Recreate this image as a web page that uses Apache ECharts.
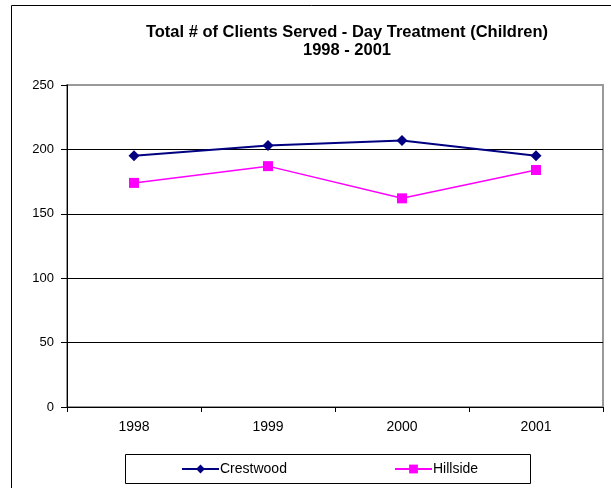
<!DOCTYPE html>
<html>
<head>
<meta charset="utf-8">
<script src="https://cdn.jsdelivr.net/npm/echarts@6/dist/echarts.min.js"></script>
<style>
html,body{margin:0;padding:0;background:#fff;}
#c{width:611px;height:488px;}
</style>
</head>
<body>
<div id="c"></div>
<script>
const categories = ['1998', '1999', '2000', '2001'];
const crestwood = [195, 203, 207, 195];
const hillside = [174, 187, 162, 184];
const yTicks = [0, 50, 100, 150, 200, 250];

const FONT = 'Liberation Sans, Arial, sans-serif';
const chart = echarts.init(document.getElementById('c'), null, {renderer: 'canvas'});
chart.setOption({
  animation: false,
  backgroundColor: '#fff',
  title: {
    text: 'Total # of Clients Served - Day Treatment (Children)\n1998 - 2001',
    left: 342, top: 18, textAlign: 'center',
    textStyle: {fontFamily: FONT, fontSize: 16.5, fontWeight: 'bold', color: '#000', lineHeight: 18}
  },
  graphic: [
    {type: 'rect', shape: {x: 11.5, y: 5.5, width: 640, height: 520}, style: {fill: 'none', stroke: '#000', lineWidth: 1}, z: 0},
    {type: 'rect', shape: {x: 125.5, y: 454.5, width: 405, height: 29}, style: {fill: '#fff', stroke: '#000', lineWidth: 1}, z: 1}
  ],
  legend: [
    {data: ['Crestwood'], left: 181, top: 462, padding: 0, itemWidth: 37, itemHeight: 11, itemGap: 0,
      textStyle: {fontFamily: FONT, fontSize: 14, color: '#000', padding: [0, 0, 0, -4]}, z: 5},
    {data: ['Hillside'], left: 394, top: 462, padding: 0, itemWidth: 37, itemHeight: 11, itemGap: 0,
      textStyle: {fontFamily: FONT, fontSize: 14, color: '#000', padding: [0, 0, 0, -4]}, z: 5}
  ],
  grid: {left: 67, right: 8, top: 85, bottom: 81, containLabel: false,
    show: true, borderColor: '#999', borderWidth: 2, backgroundColor: 'transparent'},
  xAxis: {
    type: 'category', data: categories, boundaryGap: true,
    axisLine: {show: true, lineStyle: {color: '#000', width: 1}},
    axisTick: {show: true, length: 5, alignWithLabel: false, lineStyle: {color: '#000'}},
    axisLabel: {fontFamily: FONT, fontSize: 14, color: '#000', margin: 13},
    splitLine: {show: false}
  },
  yAxis: {
    type: 'value', min: yTicks[0], max: yTicks[yTicks.length - 1], interval: 50,
    axisLine: {show: true, lineStyle: {color: '#000', width: 1}},
    axisTick: {show: true, length: 6, lineStyle: {color: '#000'}},
    axisLabel: {fontFamily: FONT, fontSize: 13, color: '#000', margin: 13},
    splitLine: {show: true, lineStyle: {color: ['#000', '#000', '#000', '#000', '#000', '#999'], width: 1}}
  },
  series: [
    {name: 'Crestwood', type: 'line', data: crestwood, color: '#000080',
      symbol: 'diamond', symbolSize: 11, showAllSymbol: true,
      lineStyle: {color: '#000080', width: 2}, itemStyle: {color: '#000080'}, z: 3},
    {name: 'Hillside', type: 'line', data: hillside, color: '#FF00FF',
      symbol: 'rect', symbolSize: 10, showAllSymbol: true,
      lineStyle: {color: '#FF00FF', width: 1.5}, itemStyle: {color: '#FF00FF'}, z: 3}
  ]
});
</script>
</body>
</html>
